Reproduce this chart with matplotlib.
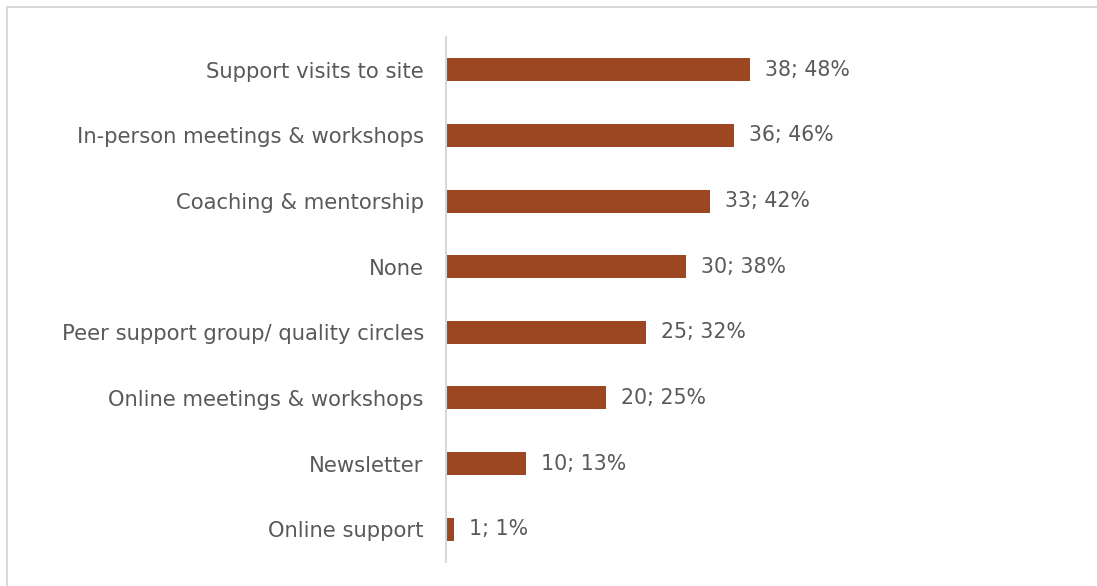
import matplotlib
matplotlib.use("Agg")
import matplotlib.pyplot as plt
from matplotlib.patches import Rectangle

categories = ["Support visits to site", "In-person meetings & workshops",
              "Coaching & mentorship", "None",
              "Peer support group/ quality circles",
              "Online meetings & workshops", "Newsletter", "Online support"]
counts = [38, 36, 33, 30, 25, 20, 10, 1]
percents = [48, 46, 42, 38, 32, 25, 13, 1]

bar_color = "#9C4622"
text_color = "#595959"
line_color = "#D9D9D9"

fig = plt.figure(figsize=(10.97, 5.86), dpi=100)
ax = fig.add_axes([446 / 1097, 24 / 586, 608 / 1097, 525 / 586])

pos = list(range(len(categories)))
ax.barh(pos, counts, height=0.35, color=bar_color)
ax.set_ylim(len(categories) - 0.5, -0.5)
ax.set_xlim(0, 76)

for y, c, p in zip(pos, counts, percents):
    ax.text(c + 1.9, y, f"{c}; {p}%", va="center", ha="left",
            fontsize=14.8, color=text_color)

ax.set_yticks(pos)
ax.set_yticklabels(categories, fontsize=15.2, color=text_color)
ax.tick_params(axis="y", length=0, pad=16)
ax.set_xticks([])
for side in ["top", "right", "bottom"]:
    ax.spines[side].set_visible(False)
ax.spines["left"].set_color(line_color)
ax.spines["left"].set_linewidth(1.5)

# light frame around the chart area
fig.patches.append(Rectangle((7 / 1097, -0.1), 1.2, (586 - 7) / 586 + 0.1,
                             transform=fig.transFigure, fill=False,
                             edgecolor=line_color, linewidth=1.5))

fig.savefig("out.png", dpi=100)
